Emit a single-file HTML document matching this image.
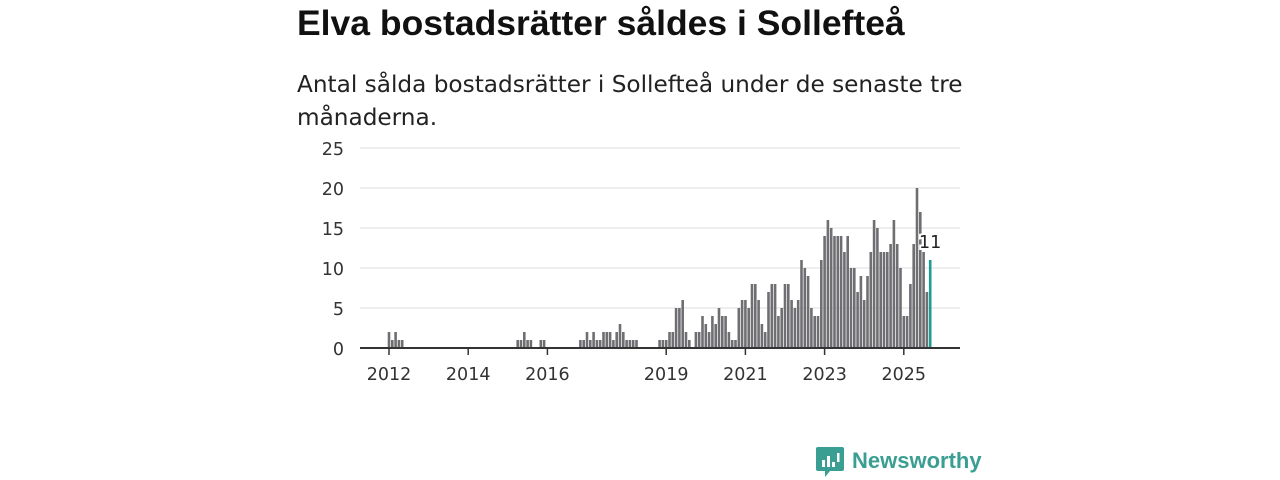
<!DOCTYPE html>
<html><head><meta charset="utf-8">
<style>
body{margin:0;background:#fff;width:1280px;height:480px;overflow:hidden;font-family:"Liberation Sans",sans-serif;}
#title{position:absolute;left:297px;top:3px;font-size:35.5px;font-weight:bold;color:#111;margin:0;}
#sub{position:absolute;left:297px;top:68px;font-family:"DejaVu Sans",sans-serif;font-size:23.2px;line-height:33px;color:#222;width:700px;}
svg{position:absolute;left:0;top:0;}
</style></head><body>
<h1 id="title">Elva bostadsrätter såldes i Sollefteå</h1>
<div id="sub">Antal sålda bostadsrätter i Sollefteå under de senaste tre månaderna.</div>
<svg id="chart" width="1280" height="480"></svg>
<script>
const months=[0,1,2,3,4,39,40,41,42,43,46,47,
58,59,60,61,62,63,64,65,66,67,68,69,70,71,72,73,74,75,
82,83,84,85,86,87,88,89,90,91,93,94,95,96,97,98,99,100,101,102,103,104,105,106,107,108,109,110,111,112,113,114,115,116,117,118,119,120,121,122,
123,124,125,126,127,128,129,130,131,132,133,134,135,136,137,138,139,140,141,142,143,144,145,146,147,148,149,150,151,152,153,154,155,156,157,158,159,160,161,162,163,164];
const values=[2,1,2,1,1,1,1,2,1,1,1,1,
1,1,2,1,2,1,1,2,2,2,1,2,3,2,1,1,1,1,
1,1,1,2,2,5,5,6,2,1,2,2,4,3,2,4,3,5,4,4,2,1,1,5,6,6,5,8,8,6,3,2,7,8,8,4,5,8,8,6,
5,6,11,10,9,5,4,4,11,14,16,15,14,14,14,12,14,10,10,7,9,6,9,12,16,15,12,12,12,13,16,13,10,4,4,8,13,20,17,12,7,11];
const yTicks=[0,5,10,15,20,25];
const xTickYears=[2012,2014,2016,2019,2021,2023,2025];
const svg=document.getElementById('chart');
const NS='http://www.w3.org/2000/svg';
const FF='DejaVu Sans, sans-serif';
const x0=360,x1=960,yBase=348,yTop=148;
const xs=m=>389+3.3*m;
const ys=v=>yBase-(v/25)*(yBase-yTop);
function mk(t,a){const e=document.createElementNS(NS,t);for(const k in a)e.setAttribute(k,a[k]);svg.appendChild(e);return e;}
yTicks.forEach(v=>{
 const l=mk('line',{x1:x0,x2:x1,y1:ys(v),y2:ys(v),stroke:'#ddd','stroke-width':1});
 
 
 const t=mk('text',{x:344,y:ys(v)+7,'text-anchor':'end','font-size':17.5,fill:'#333','font-family':FF});
 t.textContent=v;
 
 
});
months.forEach((m,i)=>{
 const last=i===months.length-1;
 const r=mk('rect',{x:xs(m)-1.3,y:ys(values[i]),width:2.6,height:yBase-ys(values[i]),fill:last?'#1a9e8f':'#6f6f73'});
 
 
});
const ax=mk('line',{x1:x0,x2:x1,y1:yBase,y2:yBase,stroke:'#333','stroke-width':2});


xTickYears.forEach(y=>{
 const m=(y-2012)*12;
 const tk=mk('line',{x1:xs(m),x2:xs(m),y1:yBase,y2:yBase+7,stroke:'#333','stroke-width':1.5});
 
 
 const t=mk('text',{x:xs(m),y:380,'text-anchor':'middle','font-size':17.5,fill:'#333','font-family':FF});
 t.textContent=y;
 
 
});
const li=months.length-1;
const lab=mk('text',{x:xs(months[li]),y:ys(values[li])-12,'text-anchor':'middle','font-size':17.5,fill:'#222',stroke:'#fff','stroke-width':4,'paint-order':'stroke','font-family':FF});
lab.textContent=values[li];


</script>
<div style="position:absolute;left:816px;top:447px;">
 <svg width="28" height="30" style="position:absolute;left:0;top:0">
  <path d="M2 0h24a2 2 0 0 1 2 2v20a2 2 0 0 1-2 2H14l-5 6v-6H2a2 2 0 0 1-2-2V2a2 2 0 0 1 2-2z" fill="#3a9e92"/>
  <rect x="6" y="13" width="3" height="7" fill="#fff"/><rect x="11" y="9" width="3" height="11" fill="#fff"/><rect x="16" y="15" width="3" height="5" fill="#fff"/><rect x="21" y="6" width="2.5" height="9" fill="#fff"/>
 </svg>
 <span style="position:absolute;left:36px;top:1px;font-size:22px;font-weight:bold;color:#3a9e92;white-space:nowrap;">Newsworthy</span>
</div>
</body></html>
